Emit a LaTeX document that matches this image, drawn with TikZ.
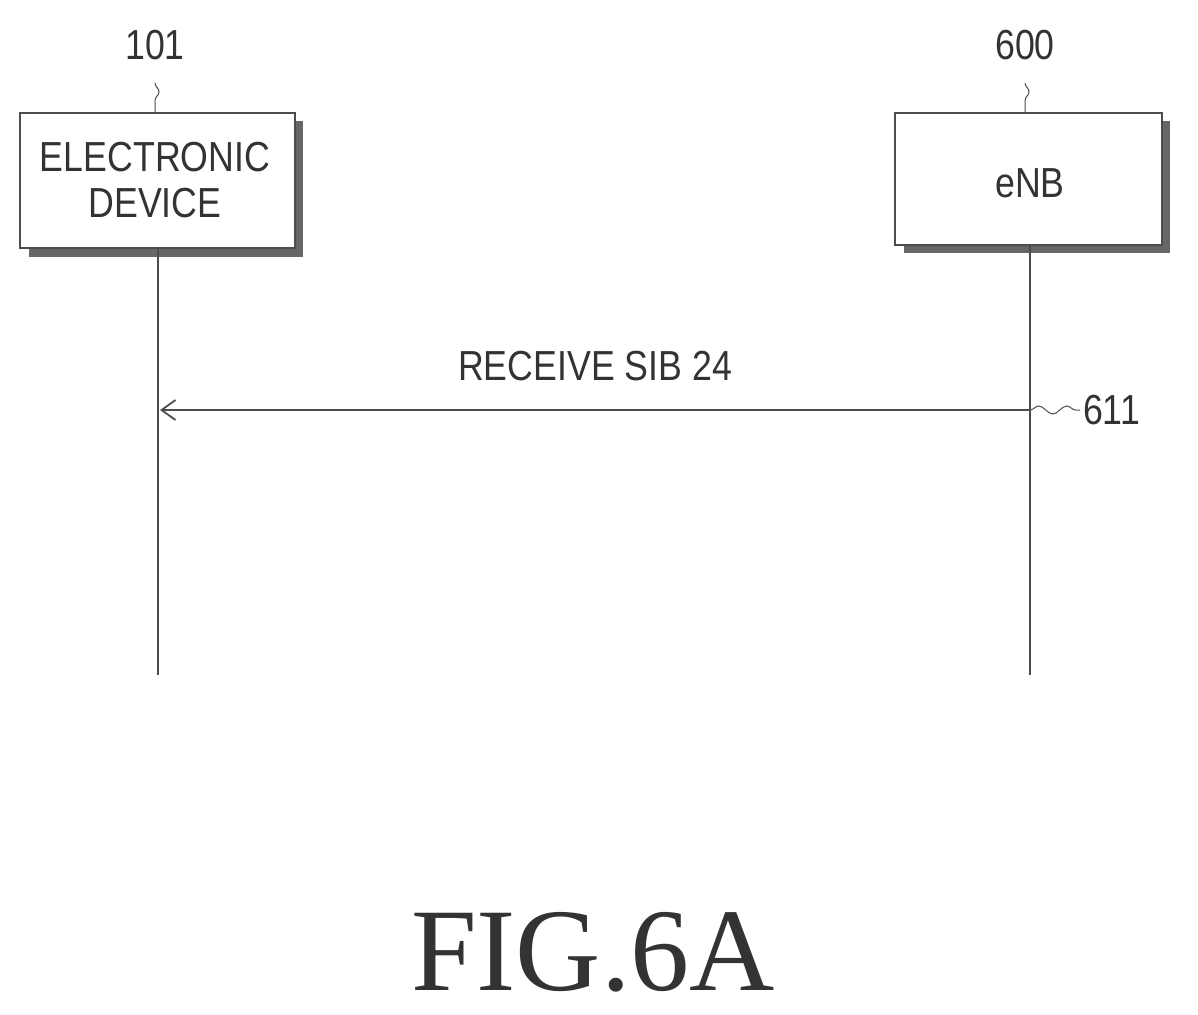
\documentclass[tikz,border=0pt]{standalone}
\usepackage{fontspec}
\setmainfont{Liberation Sans}
\newfontfamily\serifcap{Liberation Serif}
\usetikzlibrary{arrows.meta,decorations.pathmorphing}
\begin{document}
\begin{tikzpicture}[x=1pt,y=-1pt,
  box/.style={draw=black!70,line width=1.2pt,fill=white},
  shadow/.style={fill=black!60},
  lbl/.style={font=\fontsize{42}{46}\selectfont,text=black!80},
  life/.style={draw=black!70,line width=1.2pt},
  squig/.style={draw=black!70,line width=1pt,decorate,decoration={snake,amplitude=4pt,segment length=28pt}}]
\useasboundingbox (0,0) rectangle (1198,1014);
% shadows
\fill[shadow] (29,121) rectangle (303,257);
\fill[shadow] (904,121) rectangle (1170,253);
\draw[box] (20,113) rectangle (295,248);
\draw[box] (895,113) rectangle (1162,245);
\node[lbl,align=center,xscale=0.85] (ed) at (155,180) {ELECTRONIC\\DEVICE};
\node[lbl,xscale=0.85] (enb) at (1030,183) {eNB};
\node[lbl,xscale=0.85] (n101) at (155,45) {101};
\node[lbl,xscale=0.85] (n600) at (1025,45) {600};
\draw[squig] (155,83) -- (155,113);
\draw[squig] (1025,83) -- (1025,113);
\coordinate (a1) at (158,248); \coordinate (a2) at (158,675);
\coordinate (b1) at (1030,245); \coordinate (b2) at (1030,675);
\draw[life] (a1) -- (a2);
\draw[life] (b1) -- (b2);
\coordinate (s) at (1030,410); \coordinate (t) at (160,410);
\draw[life,-{Straight Barb[length=14pt,width=20pt,line width=1.8pt]}] (s) -- (t);
\node[lbl,xscale=0.85] (msg) at (595,366) {RECEIVE SIB 24};
\coordinate (q) at (1080,410);
\draw[squig] (s) -- (q);
\node[lbl,xscale=0.85,anchor=west] (n611) at (1080,410) {611};
\node[font=\serifcap\fontsize{118}{120}\selectfont,text=black!80,anchor=base,inner sep=0pt,text depth=0pt] (fig) at (593,990) {FIG.6A};
\end{tikzpicture}
\end{document}
